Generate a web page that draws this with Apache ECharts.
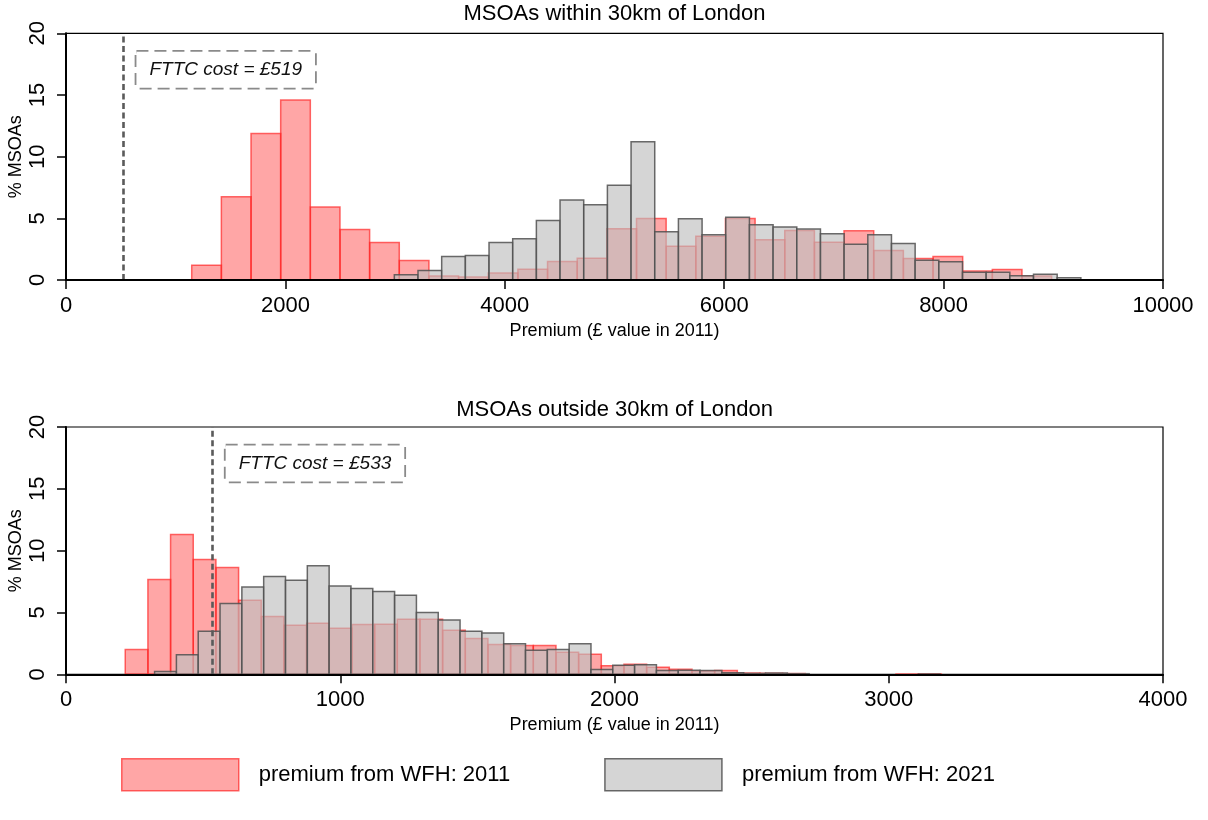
<!DOCTYPE html>
<html>
<head>
<meta charset="utf-8">
<title>FTTC cost vs WFH premium</title>
<script src="https://cdn.jsdelivr.net/npm/echarts@6/dist/echarts.min.js"></script>
<style>
  html, body { margin: 0; padding: 0; background: #fff; }
  #chart { width: 1208px; height: 820px; }
</style>
</head>
<body>
<div id="chart"></div>
<script>
// ---- Histogram data: % of MSOAs per equal-width premium bin ----
// Panel 1: MSOAs within 30km of London
const nearTitle = 'MSOAs within 30km of London';
const nearCost = 519;
const near2011Start = 1146;
const near2011Width = 270.3;
const near2011 = [1.2, 6.75, 11.87, 14.6, 5.92, 4.1, 3.05, 1.58, 0.32, 0.24,
                  0.56, 0.88, 1.5, 1.77, 4.16, 4.99, 2.73, 3.54, 4.99, 3.27,
                  4.02, 3.06, 4.0, 2.39, 1.74, 1.9, 0.72, 0.86, 0.32];
const near2021Start = 2993;
const near2021Width = 215.8;
const near2021 = [0.43, 0.78, 1.9, 1.98, 3.03, 3.35, 4.83, 6.49, 6.11, 7.69,
                  11.2, 3.91, 4.96, 3.67, 5.09, 4.48, 4.29, 4.13, 3.75, 2.9,
                  3.67, 2.95, 1.61, 1.47, 0.62, 0.62, 0.35, 0.46, 0.19];
const nearTicks = [0, 2000, 4000, 6000, 8000, 10000];

// Panel 2: MSOAs outside 30km of London
const farTitle = 'MSOAs outside 30km of London';
const farCost = 533;
const far2011Start = 216;
const far2011Width = 82.66;
const far2011 = [2.0, 7.67, 11.31, 9.28, 8.64, 5.99, 4.67, 3.97, 4.13, 3.72,
                 4.02, 4.05, 4.45, 4.45, 3.56, 2.89, 2.4, 2.32, 2.32, 1.78,
                 1.62, 0.7, 0.81, 0.57, 0.4, 0.27, 0.3, 0.1, 0.08, 0.06,
                 0, 0, 0, 0, 0.02, 0.02];
const far2021Start = 323;
const far2021Width = 79.56;
const far2021 = [0.22, 1.59, 3.48, 5.72, 7.07, 7.91, 7.61, 8.77, 7.15, 6.94,
                 6.69, 6.4, 4.99, 4.4, 3.48, 3.35, 2.48, 1.94, 2.0, 2.48,
                 0.38, 0.73, 0.78, 0.3, 0.32, 0.3, 0.13, 0.07, 0.1, 0.05,
                 0, 0, 0, 0, 0, 0.02];
const farTicks = [0, 1000, 2000, 3000, 4000];

const yTicks = [0, 5, 10, 15, 20];
const seriesNames = ['premium from WFH: 2011', 'premium from WFH: 2021'];
const xName = 'Premium (£ value in 2011)';
const yName = '% MSOAs';

// ---- Styling ----
const FONT = '"Liberation Sans", Arial, Helvetica, sans-serif';
const RED_FILL = 'rgba(255,0,0,0.35)';
const RED_EDGE = 'rgba(255,40,40,0.7)';
const GREY_FILL = 'rgba(192,192,192,0.66)';
const GREY_EDGE = 'rgba(80,80,80,0.85)';

// Turn bin start/width + heights into [left, right, height] rows
function bins(start, width, values) {
  return values.map((v, i) => [start + i * width, start + (i + 1) * width, v]);
}

function barRenderer(fill, stroke) {
  return function (params, api) {
    const h = api.value(2);
    if (!(h > 0)) return null;
    const p0 = api.coord([api.value(0), h]);
    const p1 = api.coord([api.value(1), 0]);
    return {
      type: 'rect',
      shape: { x: p0[0], y: p0[1], width: p1[0] - p0[0], height: p1[1] - p0[1] },
      style: { fill: fill, stroke: stroke, lineWidth: 1.5 }
    };
  };
}

function xAxisFor(grid, ticks) {
  return {
    type: 'value', gridIndex: grid,
    min: ticks[0], max: ticks[ticks.length - 1], interval: ticks[1] - ticks[0],
    z: 10,
    name: xName, nameLocation: 'middle', nameGap: 42, nameMoveOverlap: false,
    nameTextStyle: { fontFamily: FONT, fontSize: 18, color: '#000' },
    axisLine: { show: true, onZero: false, lineStyle: { color: '#000', width: 2 } },
    axisTick: { show: true, length: 9, lineStyle: { color: '#000', width: 1.5 } },
    axisLabel: { fontFamily: FONT, fontSize: 22, color: '#000', margin: 15, formatter: (v) => String(v) },
    splitLine: { show: false }
  };
}

function yAxisFor(grid) {
  return {
    type: 'value', gridIndex: grid,
    min: yTicks[0], max: yTicks[yTicks.length - 1], interval: yTicks[1] - yTicks[0],
    z: 10,
    name: yName, nameLocation: 'middle', nameGap: 41, nameRotate: 90, nameMoveOverlap: false,
    nameTextStyle: { fontFamily: FONT, fontSize: 18, color: '#000' },
    axisLine: { show: true, lineStyle: { color: '#000', width: 2 } },
    axisTick: { show: true, length: 9, lineStyle: { color: '#000', width: 1.5 } },
    axisLabel: { fontFamily: FONT, fontSize: 22, color: '#000', rotate: 90, margin: 17, formatter: (v) => String(v) },
    splitLine: { show: false }
  };
}

function costMarks(cost) {
  return {
    markLine: {
      silent: true, symbol: 'none', animation: false,
      lineStyle: { color: '#5a5a5a', width: 2.6, type: [6, 3.5] },
      label: { show: false },
      data: [{ xAxis: cost }]
    },
    markPoint: {
      silent: true, animation: false,
      symbol: 'rect', symbolSize: 1,
      itemStyle: { color: 'rgba(0,0,0,0)' },
      label: {
        show: true,
        position: [14, 19],
        formatter: 'FTTC cost = £' + cost,
        fontFamily: FONT, fontStyle: 'italic', fontSize: 19, lineHeight: 20,
        color: '#111',
        backgroundColor: '#fff',
        borderColor: '#8a8a8a', borderWidth: 1.8, borderType: [12, 6],
        padding: [8, 13]
      },
      data: [{ coord: [cost, yTicks[yTicks.length - 1]] }]
    }
  };
}

function panelSeries(grid, redRows, greyRows, cost) {
  return [
    {
      name: seriesNames[0], type: 'custom', xAxisIndex: grid, yAxisIndex: grid,
      renderItem: barRenderer(RED_FILL, RED_EDGE),
      encode: { x: [0, 1], y: 2 },
      itemStyle: { color: RED_FILL, borderColor: RED_EDGE },
      data: redRows, z: 2
    },
    Object.assign({
      name: seriesNames[1], type: 'custom', xAxisIndex: grid, yAxisIndex: grid,
      renderItem: barRenderer(GREY_FILL, GREY_EDGE),
      encode: { x: [0, 1], y: 2 },
      itemStyle: { color: GREY_FILL, borderColor: GREY_EDGE },
      data: greyRows, z: 3
    }, costMarks(cost))
  ];
}

const chart = echarts.init(document.getElementById('chart'), null, { renderer: 'canvas' });

const gridBase = {
  left: 66, right: 45, show: true, borderColor: '#000', borderWidth: 1.2,
  backgroundColor: 'transparent', containLabel: false, outerBoundsMode: 'none'
};

const option = {
  animation: false,
  backgroundColor: '#fff',
  textStyle: { fontFamily: FONT },
  graphic: [
    { type: 'text', x: 614.5, y: 14, style: { text: nearTitle, font: '22px ' + FONT, fill: '#000', align: 'center', verticalAlign: 'middle' } },
    { type: 'text', x: 614.5, y: 410, style: { text: farTitle, font: '22px ' + FONT, fill: '#000', align: 'center', verticalAlign: 'middle' } }
  ],
  grid: [
    Object.assign({ top: 33.3, height: 246.7 }, gridBase),
    Object.assign({ top: 427, height: 247.3 }, gridBase)
  ],
  xAxis: [xAxisFor(0, nearTicks), xAxisFor(1, farTicks)],
  yAxis: [yAxisFor(0), yAxisFor(1)],
  legend: {
    left: 121, top: 758, padding: 0,
    itemWidth: 117, itemHeight: 32, itemGap: 94,
    selectedMode: false,
    textStyle: { fontFamily: FONT, fontSize: 22, color: '#000', padding: [0, 0, 0, 15] },
    data: [
      { name: seriesNames[0], icon: 'rect', itemStyle: { color: RED_FILL, borderColor: RED_EDGE, borderWidth: 1.5 } },
      { name: seriesNames[1], icon: 'rect', itemStyle: { color: GREY_FILL, borderColor: GREY_EDGE, borderWidth: 1.5 } }
    ]
  },
  series: [].concat(
    panelSeries(0, bins(near2011Start, near2011Width, near2011), bins(near2021Start, near2021Width, near2021), nearCost),
    panelSeries(1, bins(far2011Start, far2011Width, far2011), bins(far2021Start, far2021Width, far2021), farCost)
  )
};

chart.setOption(option);
</script>
</body>
</html>
